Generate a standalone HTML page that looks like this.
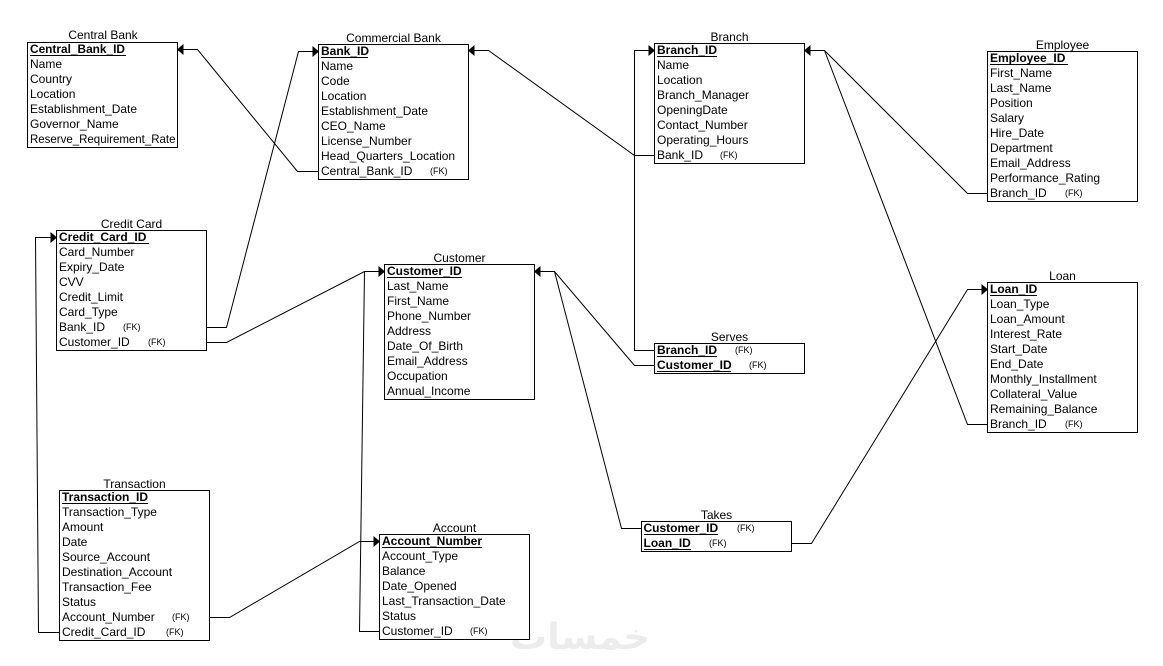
<!DOCTYPE html>
<html><head><meta charset="utf-8"><style>
html,body{margin:0;padding:0;background:#fff}
svg{display:block}
text{font-family:"Liberation Sans",Arial,sans-serif;font-size:12px;fill:#000}
.t{text-anchor:middle}
.b{font-weight:bold}
.f{font-size:9px}
rect{fill:#fff;stroke:#000;stroke-width:1}
.c{fill:none;stroke:#000;stroke-width:1}
.u{stroke:#000;stroke-width:1}
.a{fill:#000;stroke:none}
.w{font-family:"DejaVu Sans","Noto Sans CJK SC",sans-serif;font-size:36px;fill:#ececec;font-weight:bold}
</style></head><body>
<svg width="1163" height="666" viewBox="0 0 1163 666" xmlns="http://www.w3.org/2000/svg">
<text class="w" x="580" y="649" text-anchor="middle" textLength="140" lengthAdjust="spacingAndGlyphs" direction="rtl">خمسات</text>

<rect x="27.5" y="42.5" width="150" height="105"/>
<rect x="318.5" y="44.5" width="150" height="135"/>
<rect x="654.5" y="43.5" width="150" height="120"/>
<rect x="987.5" y="51.5" width="150" height="150"/>
<rect x="56.5" y="230.5" width="150" height="120"/>
<rect x="384.5" y="264.5" width="150" height="135"/>
<rect x="654.5" y="343.5" width="150" height="30"/>
<rect x="987.5" y="282.5" width="150" height="150"/>
<rect x="641.5" y="521.5" width="150" height="30"/>
<rect x="59.5" y="490.5" width="150" height="150"/>
<rect x="379.5" y="534.5" width="150" height="105"/>

<polyline class="c" points="318,171.5 297.5,171.5 197.5,49.5 183,49.5"/>
<polyline class="c" points="207,327.5 226.5,327.5 298.5,51.5 313,51.5"/>
<polyline class="c" points="654,155.5 634.5,155.5 488.5,50.5 474,50.5"/>
<polyline class="c" points="649,50.5 634.5,50.5 634.5,350.5 654,350.5"/>
<polyline class="c" points="654,365.5 634.5,365.5 554.5,271.5 540,271.5"/>
<polyline class="c" points="641,528.5 621.5,528.5 554.5,271.5"/>
<polyline class="c" points="792,543.5 811.5,543.5 967.5,289.5 982,289.5"/>
<polyline class="c" points="987,193.5 967.5,193.5 824.5,50.5 810,50.5"/>
<polyline class="c" points="987,424.5 967.5,424.5 824.5,50.5"/>
<polyline class="c" points="207,342.5 226.5,342.5 364.5,271.5 379,271.5"/>
<polyline class="c" points="379,631.5 359.5,631.5 364.5,271.5"/>
<polyline class="c" points="210,617.5 229.5,617.5 359.5,541.5 374,541.5"/>
<polyline class="c" points="59,632.5 38.5,632.5 35.5,237.5 51,237.5"/>

<polygon class="a" points="177,49.5 183.5,44 183.5,55"/>
<polygon class="a" points="468,50.5 474.5,45 474.5,56"/>
<polygon class="a" points="804,50.5 810.5,45 810.5,56"/>
<polygon class="a" points="534,271.5 540.5,266 540.5,277"/>
<polygon class="a" points="319,51.5 312.5,46 312.5,57"/>
<polygon class="a" points="655,50.5 648.5,45 648.5,56"/>
<polygon class="a" points="57,237.5 50.5,232 50.5,243"/>
<polygon class="a" points="385,271.5 378.5,266 378.5,277"/>
<polygon class="a" points="380,541.5 373.5,536 373.5,547"/>
<polygon class="a" points="988,289.5 981.5,284 981.5,295"/>

<text class="t" x="103" y="39">Central Bank</text>
<text class="b" x="30" y="53" textLength="95" lengthAdjust="spacingAndGlyphs">Central_Bank_ID</text><line class="u" x1="30" x2="126" y1="55.5" y2="55.5"/>
<text x="30" y="68">Name</text><text x="30" y="83">Country</text><text x="30" y="98">Location</text><text x="30" y="113" textLength="107" lengthAdjust="spacingAndGlyphs">Establishment_Date</text><text x="30" y="128">Governor_Name</text><text x="30" y="143" textLength="145.5" lengthAdjust="spacingAndGlyphs">Reserve_Requirement_Rate</text>

<text class="t" x="393.5" y="42">Commercial Bank</text>
<text class="b" x="321" y="55">Bank_ID</text><line class="u" x1="321" x2="368" y1="57.5" y2="57.5"/>
<text x="321" y="70">Name</text><text x="321" y="85">Code</text><text x="321" y="100">Location</text><text x="321" y="115" textLength="107" lengthAdjust="spacingAndGlyphs">Establishment_Date</text><text x="321" y="130">CEO_Name</text><text x="321" y="145">License_Number</text><text x="321" y="160">Head_Quarters_Location</text><text x="321" y="175">Central_Bank_ID</text><text class="f" x="430" y="174">(FK)</text>

<text class="t" x="729.5" y="41">Branch</text>
<text class="b" x="657" y="54">Branch_ID</text><line class="u" x1="657" x2="717" y1="56.5" y2="56.5"/>
<text x="657" y="69">Name</text><text x="657" y="84">Location</text><text x="657" y="99">Branch_Manager</text><text x="657" y="114">OpeningDate</text><text x="657" y="129">Contact_Number</text><text x="657" y="144">Operating_Hours</text><text x="657" y="159">Bank_ID</text><text class="f" x="720" y="158">(FK)</text>

<text class="t" x="1062.5" y="49">Employee</text>
<text class="b" x="990" y="62">Employee_ID</text><line class="u" x1="990" x2="1068" y1="64.5" y2="64.5"/>
<text x="990" y="77">First_Name</text><text x="990" y="92">Last_Name</text><text x="990" y="107">Position</text><text x="990" y="122">Salary</text><text x="990" y="137">Hire_Date</text><text x="990" y="152">Department</text><text x="990" y="167">Email_Address</text><text x="990" y="182">Performance_Rating</text><text x="990" y="197">Branch_ID</text><text class="f" x="1065" y="196">(FK)</text>

<text class="t" x="131.5" y="228">Credit Card</text>
<text class="b" x="59" y="241">Credit_Card_ID</text><line class="u" x1="59" x2="149" y1="243.5" y2="243.5"/>
<text x="59" y="256">Card_Number</text><text x="59" y="271">Expiry_Date</text><text x="59" y="286">CVV</text><text x="59" y="301">Credit_Limit</text><text x="59" y="316">Card_Type</text><text x="59" y="331">Bank_ID</text><text class="f" x="123" y="330">(FK)</text><text x="59" y="346">Customer_ID</text><text class="f" x="148" y="345">(FK)</text>

<text class="t" x="459.5" y="262">Customer</text>
<text class="b" x="387" y="275">Customer_ID</text><line class="u" x1="387" x2="462" y1="277.5" y2="277.5"/>
<text x="387" y="290">Last_Name</text><text x="387" y="305">First_Name</text><text x="387" y="320">Phone_Number</text><text x="387" y="335">Address</text><text x="387" y="350">Date_Of_Birth</text><text x="387" y="365">Email_Address</text><text x="387" y="380">Occupation</text><text x="387" y="395">Annual_Income</text>

<text class="t" x="729.5" y="341">Serves</text>
<text class="b" x="657" y="354">Branch_ID</text><line class="u" x1="657" x2="717" y1="356.5" y2="356.5"/><text class="f" x="735" y="353">(FK)</text>
<text class="b" x="657" y="369">Customer_ID</text><line class="u" x1="657" x2="731" y1="371.5" y2="371.5"/><text class="f" x="749" y="368">(FK)</text>

<text class="t" x="1062.5" y="280">Loan</text>
<text class="b" x="990" y="293">Loan_ID</text><line class="u" x1="990" x2="1037" y1="295.5" y2="295.5"/>
<text x="990" y="308">Loan_Type</text><text x="990" y="323">Loan_Amount</text><text x="990" y="338">Interest_Rate</text><text x="990" y="353">Start_Date</text><text x="990" y="368">End_Date</text><text x="990" y="383">Monthly_Installment</text><text x="990" y="398">Collateral_Value</text><text x="990" y="413">Remaining_Balance</text><text x="990" y="428">Branch_ID</text><text class="f" x="1065" y="427">(FK)</text>

<text class="t" x="716.5" y="519">Takes</text>
<text class="b" x="643.5" y="532">Customer_ID</text><line class="u" x1="644" x2="718" y1="534.5" y2="534.5"/><text class="f" x="737" y="531">(FK)</text>
<text class="b" x="643.5" y="547">Loan_ID</text><line class="u" x1="644" x2="691" y1="549.5" y2="549.5"/><text class="f" x="709" y="546">(FK)</text>

<text class="t" x="134.5" y="488">Transaction</text>
<text class="b" x="62" y="501">Transaction_ID</text><line class="u" x1="62" x2="148" y1="503.5" y2="503.5"/>
<text x="62" y="516">Transaction_Type</text><text x="62" y="531">Amount</text><text x="62" y="546">Date</text><text x="62" y="561">Source_Account</text><text x="62" y="576">Destination_Account</text><text x="62" y="591">Transaction_Fee</text><text x="62" y="606">Status</text><text x="62" y="621">Account_Number</text><text class="f" x="172" y="620">(FK)</text><text x="62" y="636">Credit_Card_ID</text><text class="f" x="166" y="635">(FK)</text>

<text class="t" x="454.5" y="532">Account</text>
<text class="b" x="382" y="545">Account_Number</text><line class="u" x1="382" x2="482" y1="547.5" y2="547.5"/>
<text x="382" y="560">Account_Type</text><text x="382" y="575">Balance</text><text x="382" y="590">Date_Opened</text><text x="382" y="605">Last_Transaction_Date</text><text x="382" y="620">Status</text><text x="382" y="635">Customer_ID</text><text class="f" x="470" y="634">(FK)</text>
</svg>
</body></html>
